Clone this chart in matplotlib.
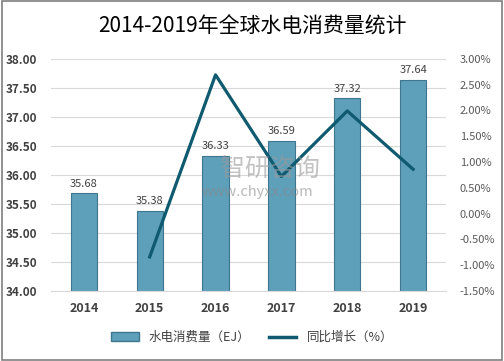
import numpy as np
import matplotlib
matplotlib.use("agg")
import matplotlib.pyplot as plt
from matplotlib.patches import Rectangle
from matplotlib.lines import Line2D

plt.rcParams['font.family'] = ['Noto Sans CJK SC', 'DejaVu Sans']

years = ['2014', '2015', '2016', '2017', '2018', '2019']
consumption = [35.68, 35.38, 36.33, 36.59, 37.32, 37.64]   # EJ
growth = [np.nan, -0.84, 2.69, 0.72, 1.99, 0.86]             # %

bar_color = '#5e9fba'
bar_edge = '#3e7690'
line_color = '#0f5a6f'

fig = plt.figure(figsize=(5.04, 3.61), dpi=100)
ax = fig.add_axes([0.101, 0.194, 0.784, 0.643])
ax2 = ax.twinx()

x = np.arange(len(years))
bars = ax.bar(x, consumption, width=0.4, color=bar_color, edgecolor=bar_edge,
              linewidth=0.8, zorder=2)
for xi, v in zip(x, consumption):
    ax.text(xi, v + 0.08, '%.2f' % v, ha='center', va='bottom', fontsize=8,
            color='#404040')

ax.set_ylim(34, 38)
ax.set_yticks(np.arange(34, 38.01, 0.5))
ax.set_yticklabels(['%.2f' % t for t in np.arange(34, 38.01, 0.5)])
ax.set_xlim(-0.5, len(years) - 0.5)
ax.set_xticks(x)
ax.set_xticklabels(years, fontweight='bold')
ax.grid(axis='y', color='#d9d9d9', linewidth=0.8, zorder=0)
ax.set_axisbelow(True)
for s in ['top', 'left', 'right']:
    ax.spines[s].set_visible(False)
ax.spines['bottom'].set_color('#d9d9d9')
ax.tick_params(axis='both', length=0, labelsize=8.5, colors='#404040')
ax.tick_params(axis='x', pad=8, labelsize=9)
ax.tick_params(axis='y', pad=10)
for lbl in ax.get_yticklabels():
    lbl.set_fontweight('bold')

ax2.plot(x, growth, color=line_color, linewidth=2.3, zorder=3)
ax2.set_ylim(-1.5, 3.0)
ax2.set_yticks(np.arange(-1.5, 3.01, 0.5))
ax2.set_yticklabels(['%.2f%%' % t for t in np.arange(-1.5, 3.01, 0.5)])
ax2.tick_params(axis='y', length=0, labelsize=8, colors='#595959', pad=10)
for s in ax2.spines.values():
    s.set_visible(False)

# watermark
fig.text(0.535, 0.532, '智研咨询', ha='center', va='center', fontsize=18,
         color='#9a9a9a', alpha=0.6)
fig.text(0.51, 0.468, 'www.chyxx.com', ha='center', va='center', fontsize=10.5,
         color='#8a8a8a', alpha=0.6)

fig.text(0.5, 0.925, '2014-2019年全球水电消费量统计', ha='center', va='center',
         fontsize=15, color='black')

handles = [Rectangle((0, 0), 1, 1, facecolor=bar_color, edgecolor=bar_edge),
           Line2D([0], [0], color=line_color, linewidth=2.5)]
fig.legend(handles, ['水电消费量（EJ）', '同比增长（%）'], loc='center',
           bbox_to_anchor=(0.5, 0.065), ncol=2, frameon=False, fontsize=9,
           handlelength=2.2, columnspacing=1.5, labelcolor='#404040')

fig.patches.append(Rectangle((0.004, 0.004), 0.992, 0.992, transform=fig.transFigure,
                             fill=False, edgecolor='#7f7f7f', linewidth=1.2))

fig.savefig('out.png', dpi=100)
